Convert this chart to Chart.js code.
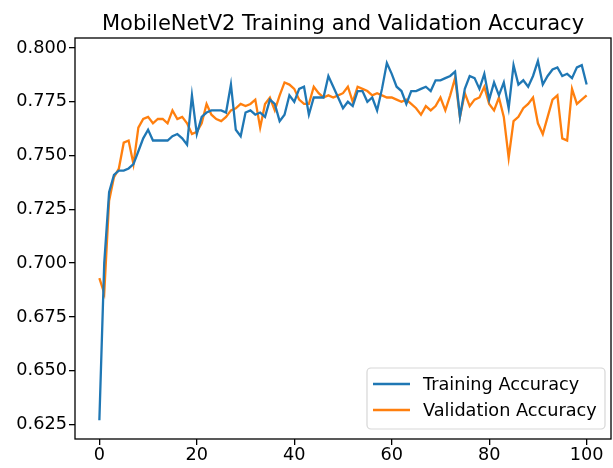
<!DOCTYPE html>
<html>
<head>
<meta charset="utf-8">
<title>MobileNetV2 accuracy</title>
<script src="https://cdn.jsdelivr.net/npm/chart.js@4"></script>
<style>
  html, body { margin: 0; padding: 0; background: #fff; }
  #wrap { width: 613px; height: 468px; }
</style>
</head>
<body>
<div id="wrap"><canvas id="accChart" width="613" height="468"></canvas></div>
<script>
const chartTitle = 'MobileNetV2 Training and Validation Accuracy';
const seriesLabels = ['Training Accuracy', 'Validation Accuracy'];
const seriesColors = ['#1f77b4', '#ff7f0e'];

// accuracy per epoch (0..100)
const trainAcc = [
  0.627, 0.700, 0.733, 0.741, 0.743, 0.743, 0.744, 0.746, 0.752, 0.758,
  0.762, 0.757, 0.757, 0.757, 0.757, 0.759, 0.760, 0.758, 0.755, 0.778,
  0.760, 0.768, 0.770, 0.771, 0.771, 0.771, 0.770, 0.783, 0.762, 0.759,
  0.770, 0.771, 0.769, 0.770, 0.768, 0.776, 0.774, 0.766, 0.769, 0.778,
  0.775, 0.781, 0.782, 0.769, 0.777, 0.777, 0.777, 0.787, 0.782, 0.777,
  0.772, 0.775, 0.773, 0.780, 0.780, 0.775, 0.777, 0.771, 0.781, 0.793,
  0.788, 0.782, 0.780, 0.774, 0.780, 0.780, 0.781, 0.782, 0.780, 0.785,
  0.785, 0.786, 0.787, 0.789, 0.768, 0.781, 0.787, 0.786, 0.781, 0.788,
  0.776, 0.784, 0.778, 0.784, 0.772, 0.792, 0.783, 0.785, 0.782, 0.787,
  0.794, 0.783, 0.787, 0.790, 0.791, 0.787, 0.788, 0.786, 0.791, 0.792,
  0.783
];
const valAcc = [
  0.693, 0.686, 0.729, 0.740, 0.744, 0.756, 0.757, 0.746, 0.763, 0.767,
  0.768, 0.765, 0.767, 0.767, 0.765, 0.771, 0.767, 0.768, 0.765, 0.760,
  0.761, 0.765, 0.774, 0.769, 0.767, 0.766, 0.768, 0.771, 0.772, 0.774,
  0.773, 0.774, 0.776, 0.763, 0.774, 0.777, 0.771, 0.778, 0.784, 0.783,
  0.781, 0.776, 0.774, 0.774, 0.782, 0.779, 0.777, 0.778, 0.777, 0.778,
  0.779, 0.782, 0.775, 0.782, 0.781, 0.780, 0.778, 0.779, 0.778, 0.777,
  0.777, 0.776, 0.775, 0.776, 0.774, 0.772, 0.769, 0.773, 0.771, 0.773,
  0.777, 0.771, 0.778, 0.786, 0.768, 0.779, 0.773, 0.776, 0.777, 0.782,
  0.774, 0.771, 0.777, 0.768, 0.749, 0.766, 0.768, 0.772, 0.774, 0.777,
  0.765, 0.760, 0.768, 0.776, 0.778, 0.758, 0.757, 0.781, 0.774, 0.776,
  0.778
];

const xTicks = [0, 20, 40, 60, 80, 100];
const yTicks = [0.625, 0.650, 0.675, 0.700, 0.725, 0.750, 0.775, 0.800];

Chart.defaults.font.family = '"DejaVu Sans", sans-serif';
Chart.defaults.color = '#000';

// axes frame, title above the plot area and the legend in the lower right
const framePlugin = {
  id: 'framePlugin',
  afterDraw(chart) {
    const { ctx, chartArea: a } = chart;
    ctx.save();
    ctx.strokeStyle = '#000';
    ctx.lineWidth = 1.3;
    ctx.strokeRect(a.left, a.top, a.right - a.left, a.bottom - a.top);

    ctx.fillStyle = '#000';
    ctx.font = '21px "DejaVu Sans"';
    ctx.textAlign = 'center';
    ctx.textBaseline = 'alphabetic';
    ctx.fillText(chartTitle, (a.left + a.right) / 2, a.top - 8);

    const lw = 238, lh = 61;
    const lx = a.right - lw - 6, ly = a.bottom - lh - 10;
    ctx.beginPath();
    ctx.roundRect(lx, ly, lw, lh, 4);
    ctx.fillStyle = 'rgba(255,255,255,0.8)';
    ctx.fill();
    ctx.strokeStyle = 'rgba(204,204,204,0.8)';
    ctx.lineWidth = 1.2;
    ctx.stroke();

    ctx.font = '17.7px "DejaVu Sans"';
    ctx.textAlign = 'left';
    ctx.textBaseline = 'middle';
    chart.data.datasets.forEach((ds, i) => {
      const y = ly + 16 + i * 26;
      ctx.beginPath();
      ctx.moveTo(lx + 6, y);
      ctx.lineTo(lx + 43, y);
      ctx.strokeStyle = ds.borderColor;
      ctx.lineWidth = 2.4;
      ctx.stroke();
      ctx.fillStyle = '#000';
      ctx.fillText(ds.label, lx + 56, y + 1);
    });
    ctx.restore();
  }
};

const toPoints = arr => arr.map((v, i) => ({ x: i, y: v }));

new Chart(document.getElementById('accChart').getContext('2d'), {
  type: 'line',
  data: {
    datasets: [
      {
        label: seriesLabels[0],
        data: toPoints(trainAcc),
        borderColor: seriesColors[0],
        borderWidth: 2.3,
        pointRadius: 0,
        tension: 0
      },
      {
        label: seriesLabels[1],
        data: toPoints(valAcc),
        borderColor: seriesColors[1],
        borderWidth: 2.3,
        pointRadius: 0,
        tension: 0
      }
    ]
  },
  options: {
    responsive: false,
    animation: false,
    devicePixelRatio: 1,
    layout: { padding: { left: 0, right: 2, top: 38, bottom: 0 } },
    plugins: {
      legend: { display: false },
      title: { display: false },
      tooltip: { enabled: false }
    },
    scales: {
      x: {
        type: 'linear',
        min: -5,
        max: 105,
        afterBuildTicks: scale => { scale.ticks = xTicks.map(v => ({ value: v })); },
        afterFit: scale => { scale.height = 29; },
        border: { display: false },
        grid: { drawOnChartArea: false, drawTicks: true, tickLength: 6, color: '#000', lineWidth: 1.3 },
        ticks: { font: { size: 17.7 }, padding: 0, maxRotation: 0, callback: v => String(v) }
      },
      y: {
        type: 'linear',
        min: 0.61826,
        max: 0.80465,
        afterBuildTicks: scale => { scale.ticks = yTicks.map(v => ({ value: v })); },
        afterFit: scale => { scale.width = 75; },
        border: { display: false },
        grid: { drawOnChartArea: false, drawTicks: true, tickLength: 6, color: '#000', lineWidth: 1.3 },
        ticks: { font: { size: 17.7 }, padding: 2, callback: v => v.toFixed(3) }
      }
    }
  },
  plugins: [framePlugin]
});
</script>
</body>
</html>
